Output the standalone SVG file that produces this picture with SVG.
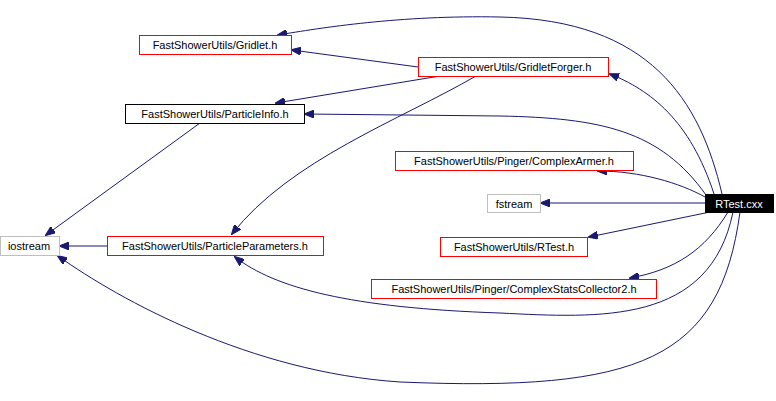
<svg xmlns="http://www.w3.org/2000/svg" width="776" height="401" viewBox="0 0 776 401">
<style>
text{font-family:"Liberation Sans",Arial,sans-serif;font-size:11px;text-anchor:middle}
.r{fill:#fff;stroke:#f00}.k{fill:#fff;stroke:#000}.g{fill:#fff;stroke:#bfbfbf}
.e{fill:none;stroke:#191970;marker-end:url(#a)}
</style>
<defs><marker id="a" markerWidth="10" markerHeight="8" refX="9" refY="4" orient="auto" markerUnits="userSpaceOnUse"><path d="M0,0 L10,4 L0,8 Z" fill="#191970" stroke="#191970"/></marker></defs>
<rect width="776" height="401" fill="#fff"/>
<g id="edges">
<path class="e" d="M722,194 C700,100 650,20 500,17 C400,15 320,28 278,35"/>
<path class="e" d="M714,194 C690,120 650,90 610,74"/>
<path class="e" d="M706,195 C660,130 600,118 500,116 L305,114"/>
<path class="e" d="M418,67 L292,50"/>
<path class="e" d="M440,76 L276,103"/>
<path class="e" d="M476,76 C400,120 290,160 232,234"/>
<path class="e" d="M200,123 L46,235"/>
<path class="e" d="M107,246 L60,246"/>
<path class="e" d="M705,197 C680,183 640,171 598,171"/>
<path class="e" d="M705,203 L541,203"/>
<path class="e" d="M710,212 L589,237"/>
<path class="e" d="M728,212 C705,250 675,270 630,278"/>
<path class="e" d="M733,212 C710,325 600,318 500,313 C350,308 275,288 235,257"/>
<path class="e" d="M740,212 C720,360 640,392 400,382 C250,372 120,300 58,256"/>
</g>
<g id="gridlet"><rect class="r" x="139.5" y="35.5" width="152" height="19"/><text x="215" y="49">FastShowerUtils/Gridlet.h</text></g>
<g id="forger"><rect class="r" x="418.5" y="57.5" width="190" height="19"/><text x="513" y="71">FastShowerUtils/GridletForger.h</text></g>
<g id="pinfo"><rect class="k" x="125.5" y="104.5" width="179" height="19"/><text x="215" y="118">FastShowerUtils/ParticleInfo.h</text></g>
<g id="armer"><rect class="r" x="395.5" y="151.5" width="238" height="19"/><text x="514" y="165">FastShowerUtils/Pinger/ComplexArmer.h</text></g>
<g id="fstream"><rect class="g" x="487.5" y="194.5" width="53" height="18"/><text x="514" y="208">fstream</text></g>
<g id="rtestcxx"><rect x="705.5" y="194.5" width="68" height="18" fill="#000" stroke="#000"/><text x="739" y="208" fill="#fff">RTest.cxx</text></g>
<g id="rtesth"><rect class="r" x="440.5" y="237.5" width="147" height="19"/><text x="514" y="251">FastShowerUtils/RTest.h</text></g>
<g id="csc2"><rect class="r" x="371.5" y="279.5" width="285" height="19"/><text x="514" y="293">FastShowerUtils/Pinger/ComplexStatsCollector2.h</text></g>
<g id="iostream"><rect class="g" x="0.5" y="236.5" width="59" height="19"/><text x="29" y="250">iostream</text></g>
<g id="pparams"><rect class="r" x="107.5" y="236.5" width="216" height="19"/><text x="215" y="250">FastShowerUtils/ParticleParameters.h</text></g>
</svg>
